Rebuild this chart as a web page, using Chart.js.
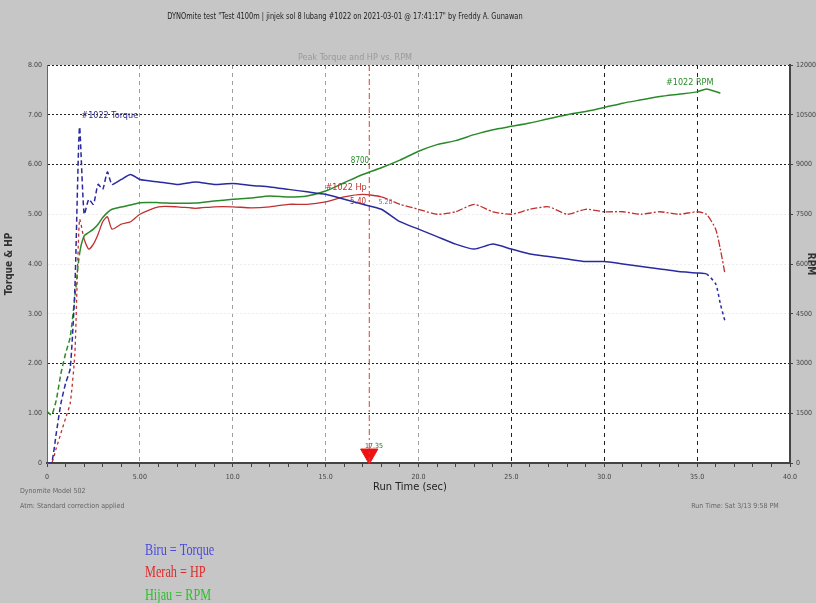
<!DOCTYPE html>
<html lang="id">
<head>
<meta charset="UTF-8" />
<title>DYNOmite test #1022</title>
<script src="https://cdn.jsdelivr.net/npm/chart.js"></script>
<style>
  html, body { margin: 0; padding: 0; background: #c6c6c6; }
  #wrap { width: 816px; height: 603px; }
</style>
</head>
<body>
<div id="wrap"><canvas id="dyno" width="816" height="603"></canvas></div>
<script>
// run time (sec) shared by all three traces
const runTime = [0, 0.25, 0.5, 0.75, 1, 1.25, 1.5, 1.75, 2, 2.25, 2.5, 2.75, 3, 3.25, 3.5, 4, 4.5, 5,
  6, 7, 8, 9, 10, 11, 12, 13, 14, 15, 16, 17, 18, 19, 20, 21, 22, 23, 24, 25, 26, 27, 28, 29, 30,
  31, 32, 33, 34, 35, 35.5, 36, 36.25, 36.5];
// Biru = Torque
const torque = [0, 0, 0.6, 1.2, 1.6, 1.9, 3.5, 6.75, 5.0, 5.3, 5.2, 5.6, 5.5, 5.85, 5.6, 5.7, 5.8, 5.7,
  5.65, 5.6, 5.65, 5.6, 5.62, 5.58, 5.55, 5.5, 5.45, 5.4, 5.3, 5.2, 5.1, 4.85, 4.7, 4.55, 4.4, 4.3,
  4.4, 4.3, 4.2, 4.15, 4.1, 4.05, 4.05, 4.0, 3.95, 3.9, 3.85, 3.82, 3.8, 3.6, 3.2, 2.85];
// Merah = HP
const horsepower = [0, 0, 0.3, 0.6, 0.9, 1.2, 2.2, 4.9, 4.5, 4.3, 4.4, 4.6, 4.85, 4.95, 4.7, 4.8, 4.85, 5.0,
  5.15, 5.15, 5.12, 5.15, 5.15, 5.13, 5.15, 5.2, 5.2, 5.25, 5.35, 5.4, 5.35, 5.2, 5.1, 5.0, 5.05, 5.2,
  5.05, 5.0, 5.1, 5.15, 5.0, 5.1, 5.05, 5.05, 5.0, 5.05, 5.0, 5.05, 5.0, 4.7, 4.3, 3.8];
// Hijau = RPM
const rpm = [1550, 1450, 1900, 2700, 3300, 3800, 5000, 6300, 6850, 6950, 7050, 7200, 7400, 7550, 7650, 7720, 7780, 7850,
  7850, 7830, 7840, 7900, 7950, 7990, 8050, 8020, 8050, 8200, 8450, 8700, 8900, 9130, 9400, 9600, 9720, 9900,
  10050, 10150, 10250, 10380, 10500, 10600, 10720, 10850, 10950, 11050, 11120, 11190, 11280, 11200, 11150, null];

const cursorTime = [17.35];
const timeTickLabels = ["0", "5.00", "10.0", "15.0", "20.0", "25.0", "30.0", "35.0", "40.0"];
const torqueTickLabels = ["0", "1.00", "2.00", "3.00", "4.00", "5.00", "6.00", "7.00", "8.00"];
const rpmTickLabels = ["0", "1500", "3000", "4500", "6000", "7500", "9000", "10500", "12000"];

const narrow = '"Liberation Sans Narrow", "DejaVu Sans Condensed", "Roboto", sans-serif';

function pts(ys) {
  return runTime.map((t, i) => ({ x: t, y: ys[i] }));
}

// gray page, white plot area
const backdrop = {
  id: "backdrop",
  beforeDraw(chart) {
    const { ctx, chartArea: a } = chart;
    ctx.save();
    ctx.fillStyle = "#c6c6c6";
    ctx.fillRect(0, 0, chart.width, chart.height);
    ctx.fillStyle = "#ffffff";
    ctx.fillRect(a.left, a.top, a.right - a.left, a.bottom - a.top);
    ctx.restore();
  }
};

// titles, notes and trace labels
const texts = {
  id: "texts",
  afterDraw(chart) {
    const { ctx } = chart;
    const x = chart.scales.x, y = chart.scales.y;
    const put = (s, px, py, font, color, align) => {
      ctx.font = font;
      ctx.fillStyle = color;
      ctx.textAlign = align || "center";
      ctx.textBaseline = "middle";
      ctx.fillText(s, px, py);
    };
    ctx.save();
    ctx.save();
    ctx.translate(345, 17);
    ctx.scale(0.82, 1);
    put('DYNOmite test "Test 4100m | jinjek sol 8 lubang #1022 on 2021-03-01 @ 17:41:17" by Freddy A. Gunawan',
      0, 0, "9px " + narrow, "#222");
    ctx.restore();
    put("Peak Torque and HP vs. RPM", 355, 58, "9px " + narrow, "#9a9a9a");
    put("Run Time (sec)", 410, 487, "11px " + narrow, "#222");
    put("Dynomite Model 502", 20, 491, "7px " + narrow, "#666", "left");
    put("Atm: Standard correction applied", 20, 506, "7px " + narrow, "#666", "left");
    put("Run Time: Sat 3/13 9:58 PM", 735, 506, "7px " + narrow, "#666");

    // axis titles
    ctx.save();
    ctx.translate(9, 264);
    ctx.rotate(-Math.PI / 2);
    put("Torque & HP", 0, 0, "bold 10px " + narrow, "#333");
    ctx.restore();
    ctx.save();
    ctx.translate(811, 264);
    ctx.rotate(Math.PI / 2);
    put("RPM", 0, 0, "bold 10px " + narrow, "#333");
    ctx.restore();

    // trace labels
    put("#1022 Torque", x.getPixelForValue(1.85), y.getPixelForValue(6.98), "9px " + narrow, "#2a2aa0", "left");
    put("#1022 RPM", x.getPixelForValue(34.6), y.getPixelForValue(7.65), "9px " + narrow, "#2a8a2a");
    put("#1022 Hp", x.getPixelForValue(16.1), y.getPixelForValue(5.54), "9px " + narrow, "#c03030");
    const c = cursorTime[0];
    put("8700", x.getPixelForValue(c - 0.5), y.getPixelForValue(6.08), "8px " + narrow, "#2a8a2a");
    put("5.40", x.getPixelForValue(c - 0.6), y.getPixelForValue(5.24), "8px " + narrow, "#c03030");
    put("5.20", x.getPixelForValue(c + 0.5), y.getPixelForValue(5.24), "7px " + narrow, "#6a6ad0", "left");
    put(c.toFixed(2), x.getPixelForValue(c + 0.25), y.getPixelForValue(0.34), "7px " + narrow, "#2a6a2a");

    // colour key below the chart
    const key = [["Biru = Torque", "#4a4ae0", 551], ["Merah = HP", "#e02a2a", 573], ["Hijau = RPM", "#2ac02a", 596]];
    key.forEach(([s, col, py]) => {
      ctx.save();
      ctx.translate(145, py);
      ctx.scale(0.72, 1);
      put(s, 0, 0, '17px "Liberation Serif", "DejaVu Serif", serif', col, "left");
      ctx.restore();
    });
    ctx.restore();
  }
};

new Chart(document.getElementById("dyno"), {
  type: "line",
  data: {
    datasets: [
      {
        label: "#1022 Torque",
        data: pts(torque),
        borderColor: "#2a2aa0",
        borderWidth: 1.5,
        pointRadius: 0,
        tension: 0.2,
        yAxisID: "y",
        segment: {
          borderDash: (s) => (s.p1.parsed.x <= 3.5 ? [5, 3] : s.p0.parsed.x >= 35.5 ? [3, 3] : undefined)
        }
      },
      {
        label: "#1022 Hp",
        data: pts(horsepower),
        borderColor: "#c03030",
        borderWidth: 1.3,
        pointRadius: 0,
        tension: 0.2,
        yAxisID: "y",
        segment: {
          borderDash: (s) => (s.p1.parsed.x <= 2 ? [3, 3] : s.p0.parsed.x >= 18 ? [7, 2, 2, 2] : undefined)
        }
      },
      {
        label: "#1022 RPM",
        data: pts(rpm),
        borderColor: "#2a8a2a",
        borderWidth: 1.5,
        pointRadius: 0,
        tension: 0.2,
        yAxisID: "y2",
        segment: {
          borderDash: (s) => (s.p1.parsed.x <= 1.75 ? [5, 3] : undefined)
        }
      },
      {
        label: "cursor",
        data: [{ x: cursorTime[0], y: 0 }, { x: cursorTime[0], y: 8 }],
        borderColor: "#d04040",
        borderWidth: 1,
        borderDash: [6, 3, 2, 3],
        pointRadius: 0,
        yAxisID: "y"
      },
      {
        label: "marker",
        data: [{ x: cursorTime[0], y: 0.18 }],
        showLine: false,
        pointStyle: "triangle",
        rotation: 180,
        pointRadius: 10,
        backgroundColor: "#ee1111",
        borderColor: "#ee1111",
        yAxisID: "y",
        clip: false
      }
    ]
  },
  options: {
    responsive: false,
    animation: false,
    layout: { padding: { top: 65, left: 0, right: 0, bottom: 0 } },
    plugins: { legend: { display: false }, tooltip: { enabled: false }, title: { display: false } },
    scales: {
      x: {
        type: "linear",
        min: 0,
        max: 40,
        afterFit: (s) => { s.height = 140; },
        ticks: {
          stepSize: 1,
          autoSkip: false,
          maxRotation: 0,
          padding: 6,
          color: "#444",
          font: { size: 7, family: narrow },
          callback: (v) => (v % 5 === 0 ? timeTickLabels[v / 5] : "")
        },
        grid: {
          color: (c) => {
            const v = c.tick ? c.tick.value : 0;
            if (v % 5 !== 0 || v === 0 || v === 40) return "rgba(0,0,0,0)";
            return v >= 25 ? "#222" : "#a0a0a0";
          },
          tickColor: "#444",
          tickLength: 4,
          lineWidth: 1
        },
        border: { color: "#444", width: 2, dash: [4, 4] }
      },
      y: {
        position: "left",
        min: 0,
        max: 8,
        afterFit: (s) => { s.width = 47; },
        ticks: {
          stepSize: 1,
          padding: 5,
          color: "#444",
          font: { size: 7, family: narrow },
          callback: (v) => torqueTickLabels[v]
        },
        grid: {
          drawTicks: false,
          color: (c) => {
            const v = c.tick ? c.tick.value : 0;
            if (v === 0) return "rgba(0,0,0,0)";
            return v >= 3 && v <= 5 ? "#eeeeee" : "#222";
          },
          lineWidth: 1
        },
        border: { color: "#666", width: 1, dash: [2, 2] }
      },
      y2: {
        position: "right",
        min: 0,
        max: 12000,
        afterFit: (s) => { s.width = 26; },
        ticks: {
          stepSize: 1500,
          padding: 3,
          color: "#444",
          font: { size: 7, family: narrow },
          callback: (v) => rpmTickLabels[v / 1500]
        },
        grid: { drawOnChartArea: false, tickLength: 3, tickColor: "#444" },
        border: { color: "#444", width: 2 }
      }
    }
  },
  plugins: [backdrop, texts]
});
</script>
</body>
</html>
